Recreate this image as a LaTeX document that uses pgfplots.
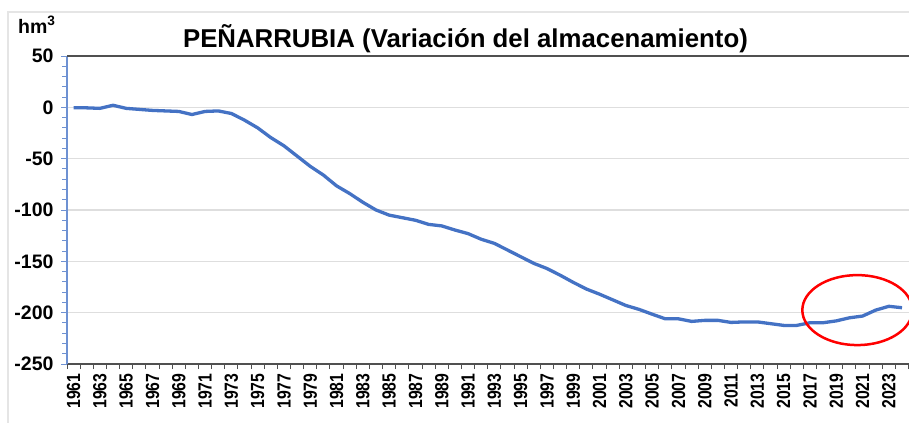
\documentclass[border=0pt]{standalone}
\usepackage{graphicx}
\usepackage{pgfplots}
\pgfplotsset{compat=1.18}
\usepackage{fontspec}
\setmainfont{Liberation Sans}
\definecolor{linecol}{RGB}{68,114,196}
\definecolor{yaxcol}{RGB}{110,145,210}
\definecolor{gridcol}{RGB}{222,222,222}
\definecolor{axcol}{RGB}{80,80,80}
\pgfplotstableread{
year val
1961 -0.5
1962 -0.5
1963 -1
1964 2
1965 -1
1966 -2
1967 -3
1968 -3.5
1969 -4
1970 -7
1971 -4
1972 -3.5
1973 -6
1974 -12.5
1975 -20
1976 -29.5
1977 -37.5
1978 -47.5
1979 -57.5
1980 -66
1981 -76.5
1982 -84
1983 -92.5
1984 -100
1985 -105
1986 -107.5
1987 -110
1988 -114
1989 -115.5
1990 -119.5
1991 -123
1992 -128.5
1993 -132.5
1994 -139
1995 -145.5
1996 -152
1997 -157
1998 -163.5
1999 -170.5
2000 -177
2001 -182
2002 -187.5
2003 -193
2004 -196.8
2005 -201.5
2006 -206
2007 -206
2008 -208.5
2009 -207.5
2010 -207.5
2011 -209.5
2012 -209
2013 -209
2014 -210.7
2015 -212.4
2016 -212.4
2017 -209.8
2018 -209.8
2019 -208
2020 -205
2021 -203.3
2022 -197.5
2023 -193.8
2024 -195.2
}\datatable
\begin{document}
\begin{tikzpicture}[x=1bp,y=1bp]
\useasboundingbox (0,0) rectangle (909,423);
\draw[gray!20, line width=1.5bp] (8,0) -- (8,411) -- (909,411);
\node[font=\fontsize{25.8bp}{28bp}\selectfont\bfseries, anchor=base, inner sep=0pt] at (465.5,376) {PEÑARRUBIA (Variación del almacenamiento)};
\node[anchor=base west, inner sep=0pt, font=\fontsize{19.5bp}{22bp}\selectfont\bfseries] at (18,389.7) {hm\textsuperscript{3}};
\begin{axis}[
  at={(67bp,59bp)}, anchor=south west,
  scale only axis, width=841.6bp, height=308bp,
  xmin=1960.5, xmax=2024.5, ymin=-250, ymax=50,
  axis x line*=bottom, axis y line*=left,
  x axis line style={axcol, line width=1.2bp, -},
  y axis line style={yaxcol, line width=1.2bp, -},
  tick align=outside,
  ytick={-250,-200,...,50},
  minor y tick num=4,
  major tick length=6bp, minor tick length=5bp,
  y tick style={yaxcol, line width=1bp},
  xtick={1961,1963,...,2023},
  major x tick style={draw=none},
  minor xtick={1960.5,1961.5,...,2024.5},
  minor x tick style={axcol, line width=1bp},
  ymajorgrids, major grid style={gridcol, line width=1.2bp},
  extra y ticks={50}, extra y tick labels={},
  extra y tick style={grid=major, major grid style={axcol, line width=1.2bp}},
  /pgf/number format/assume math mode=true,
  yticklabel style={font=\fontsize{19.5bp}{21bp}\selectfont\bfseries, xshift=-4bp},
  xticklabel style={rotate=90, anchor=east, font=\fontsize{19bp}{21bp}\selectfont\bfseries},
  xticklabel={\scalebox{0.83}[1]{\pgfmathprintnumber[fixed,precision=0,set thousands separator={}]{\tick}}},
  clip=false,
]
\addplot[linecol, line width=3.3bp, line join=round, no marks] table[x=year, y=val] {\datatable};
\draw[red, line width=2.5bp] (axis cs:2020.6,-197.5) ellipse [x radius=55bp, y radius=35bp];
\end{axis}
\end{tikzpicture}
\end{document}
